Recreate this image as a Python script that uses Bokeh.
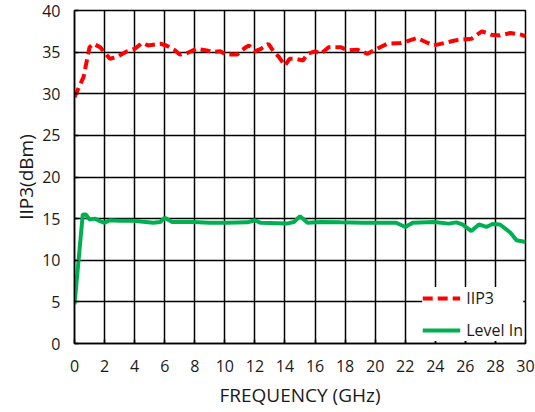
from bokeh.plotting import figure
from bokeh.models import Range1d, FixedTicker, Legend, LegendItem
from bokeh.embed import file_html
from bokeh.resources import INLINE

freq_iip3 = [0, 0.6, 1.0, 1.25, 1.7, 2.0, 2.35, 2.8, 3.5, 4.0, 4.5, 4.9, 5.7, 6.1, 6.7, 7.0,
             7.5, 8.1, 8.8, 9.2, 9.7, 10.1, 10.8, 11.4, 11.6, 12.0, 12.4, 12.9, 13.2, 13.6,
             14.0, 14.3, 14.7, 15.2, 15.5, 16.0, 16.4, 16.9, 17.7, 18.2, 18.8, 19.5, 20.0,
             20.8, 21.7, 22.1, 22.8, 23.5, 23.9, 24.6, 25.3, 25.8, 26.4, 27.1, 27.7, 28.3,
             29.0, 29.7, 30.0]
iip3 = [29.6, 32.0, 35.6, 36.0, 35.6, 35.0, 34.2, 34.4, 35.1, 35.4, 36.1, 35.8, 36.0, 35.8,
        35.2, 34.7, 34.9, 35.4, 35.2, 35.0, 35.1, 34.7, 34.7, 35.6, 35.8, 35.1, 35.4, 36.0,
        35.2, 34.4, 33.4, 34.2, 34.2, 34.0, 34.8, 35.1, 34.8, 35.6, 35.6, 35.2, 35.3, 34.8,
        35.3, 36.0, 36.1, 36.3, 36.7, 36.1, 35.8, 36.1, 36.4, 36.5, 36.6, 37.5, 37.1, 37.0,
        37.3, 37.1, 36.9]

freq_level = [0, 0.55, 0.75, 1.0, 1.35, 1.7, 2.0, 2.35, 3.0, 3.9, 5.25, 5.7, 6.0, 6.5, 7.9,
              9.0, 10.1, 11.5, 12.0, 12.4, 14.1, 14.6, 15.0, 15.5, 16.4, 17.7, 19.2, 21.4,
              22.0, 22.5, 23.9, 24.9, 25.4, 25.8, 26.4, 26.9, 27.4, 27.8, 28.3, 29.0, 29.4, 30.0]
level_in = [4.7, 15.5, 15.5, 14.9, 15.0, 14.7, 14.5, 14.8, 14.75, 14.75, 14.5, 14.6, 15.1,
            14.6, 14.6, 14.5, 14.5, 14.55, 14.8, 14.5, 14.4, 14.6, 15.3, 14.5, 14.6, 14.55,
            14.5, 14.5, 14.0, 14.5, 14.6, 14.4, 14.55, 14.3, 13.5, 14.3, 14.0, 14.35, 14.3,
            13.3, 12.4, 12.2]

x_ticks = list(range(0, 31, 2))
y_ticks = list(range(0, 41, 5))

FONT = "Open Sans"
TXT = "#1a1a1a"

p = figure(width=535, height=412, output_backend="svg", toolbar_location=None,
           x_range=Range1d(0, 30), y_range=Range1d(0, 40),
           min_border_left=74, min_border_right=10, min_border_top=10, min_border_bottom=69)

p.outline_line_color = "black"
p.outline_line_width = 1.5
p.background_fill_color = "white"
p.border_fill_color = "white"

for g in (p.xgrid, p.ygrid):
    g.grid_line_color = "black"
    g.grid_line_width = 1.5
p.xgrid.ticker = FixedTicker(ticks=x_ticks)
p.ygrid.ticker = FixedTicker(ticks=y_ticks)

p.xaxis.ticker = FixedTicker(ticks=x_ticks)
p.yaxis.ticker = FixedTicker(ticks=y_ticks)
for ax in (p.xaxis, p.yaxis):
    ax.axis_line_color = "black"
    ax.axis_line_width = 1.5
    ax.major_tick_line_color = "black"
    ax.major_tick_line_width = 1.5
    ax.major_tick_out = 0
    ax.major_tick_in = 4
    ax.minor_tick_line_color = None
    ax.major_label_text_font = FONT
    ax.major_label_text_font_size = "16px"
    ax.major_label_text_color = TXT
    ax.axis_label_text_font = FONT
    ax.axis_label_text_font_size = "19px"
    ax.axis_label_text_font_style = "normal"
    ax.axis_label_text_color = TXT

p.xaxis.axis_label = "FREQUENCY (GHz)"
p.yaxis.axis_label = "IIP3(dBm)"
p.xaxis.major_label_standoff = 16
p.yaxis.major_label_standoff = 14
p.xaxis.axis_label_standoff = 7
p.yaxis.axis_label_standoff = 0

r1 = p.line(freq_iip3, iip3, line_color="#ff0000", line_width=4, line_dash="10 5")
r2 = p.line(freq_level, level_in, line_color="#00b050", line_width=4)

legend = Legend(items=[LegendItem(label="IIP3", renderers=[r1]),
                       LegendItem(label="Level In", renderers=[r2])],
                location="bottom_right")
legend.background_fill_color = "white"
legend.background_fill_alpha = 1.0
legend.border_line_color = None
legend.margin = 2
legend.padding = 8
legend.spacing = 10
legend.glyph_width = 38
legend.glyph_height = 20
legend.label_height = 20
legend.label_standoff = 6
legend.label_text_font = FONT
legend.label_text_font_size = "16px"
legend.label_text_color = TXT
p.add_layout(legend, "center")

open("out.html", "w").write(file_html(p, INLINE))
